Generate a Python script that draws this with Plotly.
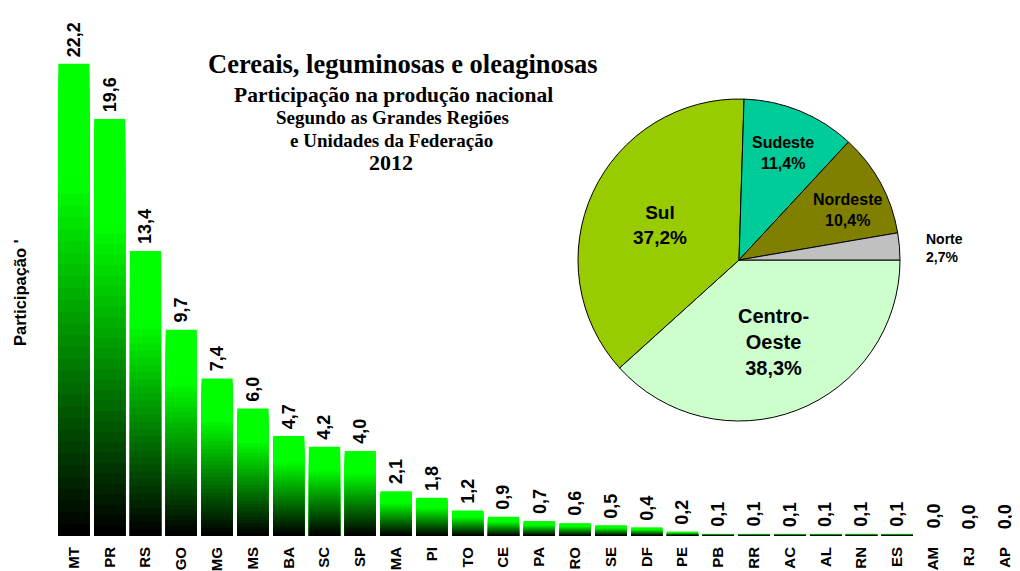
import plotly.graph_objects as go

# ---------------- data ----------------
states = ["MT", "PR", "RS", "GO", "MG", "MS", "BA", "SC", "SP", "MA", "PI", "TO", "CE", "PA",
          "RO", "SE", "DF", "PE", "PB", "RR", "AC", "AL", "RN", "ES", "AM", "RJ", "AP"]
share = [22.2, 19.6, 13.4, 9.7, 7.4, 6.0, 4.7, 4.2, 4.0, 2.1, 1.8, 1.2, 0.9, 0.7,
         0.6, 0.5, 0.4, 0.2, 0.1, 0.1, 0.1, 0.1, 0.1, 0.1, 0.0, 0.0, 0.0]

regions = ["Centro-Oeste", "Sul", "Sudeste", "Nordeste", "Norte"]
region_share = [38.3, 37.2, 11.4, 10.4, 2.7]
region_colors = ["#CCFFCC", "#99CC00", "#00CC99", "#808000", "#C0C0C0"]

title_lines = ["Cereais, leguminosas e oleaginosas",
               "Participação na produção nacional",
               "Segundo as Grandes Regiões",
               "e Unidades da Federação",
               "2012"]
y_title = "Participação '"

# ---------------- layout helpers ----------------
OFF = 8                      # page body margin of the browser
W, H = 1020 - OFF, 571 - OFF
L, R, T, B = 50 - OFF, 0, 10 - OFF, 35
SANS = "Liberation Sans, Arial, sans-serif"
SERIF = "Liberation Serif, Times New Roman, serif"
STEP = 35.8                  # pixels per category


def px(x):
    return (x - OFF - L) / (W - L - R)


def py(y):
    return (H - B - (y - OFF)) / (H - T - B)


def fmt(v):
    return f"{v:.1f}".replace(".", ",")


fig = go.Figure()

# gradient bars: nested bars, tallest (brightest) first, shorter darker ones on top
N = 40
idx = list(range(len(states)))
for k in range(N - 1, -1, -1):
    t = k / (N - 1)
    g = int(round(255 * min(1.0, t / 0.75)))
    fig.add_trace(go.Bar(
        x=idx,
        y=[v * (k + 1) / N for v in share],
        width=0.87,
        marker=dict(color=f"rgb(0,{g},0)", line=dict(width=0)),
        hoverinfo="skip",
        showlegend=False,
    ))

# pie
cx, cy, r = 739, 260, 161
fig.add_trace(go.Pie(
    labels=regions,
    values=region_share,
    sort=False,
    direction="clockwise",
    rotation=90,
    marker=dict(colors=region_colors, line=dict(color="black", width=1)),
    textinfo="none",
    hoverinfo="label+percent",
    showlegend=False,
    domain=dict(x=[px(cx - r), px(cx + r)], y=[py(cy + r), py(cy - r)]),
))

annotations = []

# value labels above bars
for i, v in enumerate(share):
    annotations.append(dict(
        x=i, y=v, xref="x", yref="y", text=f"<b>{fmt(v)}</b>",
        textangle=-90, showarrow=False, xanchor="center", yanchor="bottom",
        yshift=5, font=dict(family=SANS, size=18, color="black"),
    ))

# title lines
title_specs = [(403, 64, 26.5), (393, 95, 21.5), (392, 118, 19), (391, 141, 19), (391, 162, 22)]
for txt, (x, y, s) in zip(title_lines, title_specs):
    annotations.append(dict(
        x=px(x), y=py(y), xref="paper", yref="paper", text=f"<b>{txt}</b>",
        showarrow=False, xanchor="center", yanchor="middle",
        font=dict(family=SERIF, size=s, color="black"),
    ))

# y axis title
annotations.append(dict(
    x=px(20), y=py(293), xref="paper", yref="paper", text=f"<b>{y_title}</b>",
    textangle=-90, showarrow=False, xanchor="center", yanchor="middle",
    font=dict(family=SANS, size=16.5, color="black"),
))

# pie labels
pie_label_specs = [
    (773, 342, 20, "center", "Centro-<br>Oeste<br>{p}"),
    (660, 225, 19, "center", "Sul<br>{p}"),
    (783, 153, 16, "center", "Sudeste<br>{p}"),
    (847, 210, 16, "center", "Nordeste<br>{p}"),
    (924, 248, 14, "left", "Norte<br>{p}"),
]
for val, (x, y, s, anc, tpl) in zip(region_share, pie_label_specs):
    annotations.append(dict(
        x=px(x), y=py(y), xref="paper", yref="paper",
        text="<b>" + tpl.format(p=fmt(val) + "%") + "</b>",
        showarrow=False, xanchor=anc, yanchor="middle", align=anc,
        font=dict(family=SANS, size=s, color="black"),
    ))

ymax = (H - T - B) / 21.27
x0 = -0.5 - (56 - (L + OFF)) / STEP
x1 = x0 + (W - L - R) / STEP
fig.update_layout(
    width=W, height=H,
    margin=dict(l=L, r=R, t=T, b=B, autoexpand=False),
    paper_bgcolor="white", plot_bgcolor="white",
    barmode="overlay",
    showlegend=False,
    annotations=annotations,
    xaxis=dict(
        range=[x0, x1], tickmode="array", tickvals=idx, ticktext=states,
        tickangle=-90, ticks="", ticklabelstandoff=7, ticklabeloverflow="allow",
        tickfont=dict(family=SANS, size=15, color="black", weight="bold"),
        showgrid=False, zeroline=False, showline=False, fixedrange=True,
    ),
    yaxis=dict(
        range=[0, ymax], showticklabels=False, showgrid=False, zeroline=False,
        showline=False, ticks="", fixedrange=True,
    ),
)

fig.write_html("out.html")
